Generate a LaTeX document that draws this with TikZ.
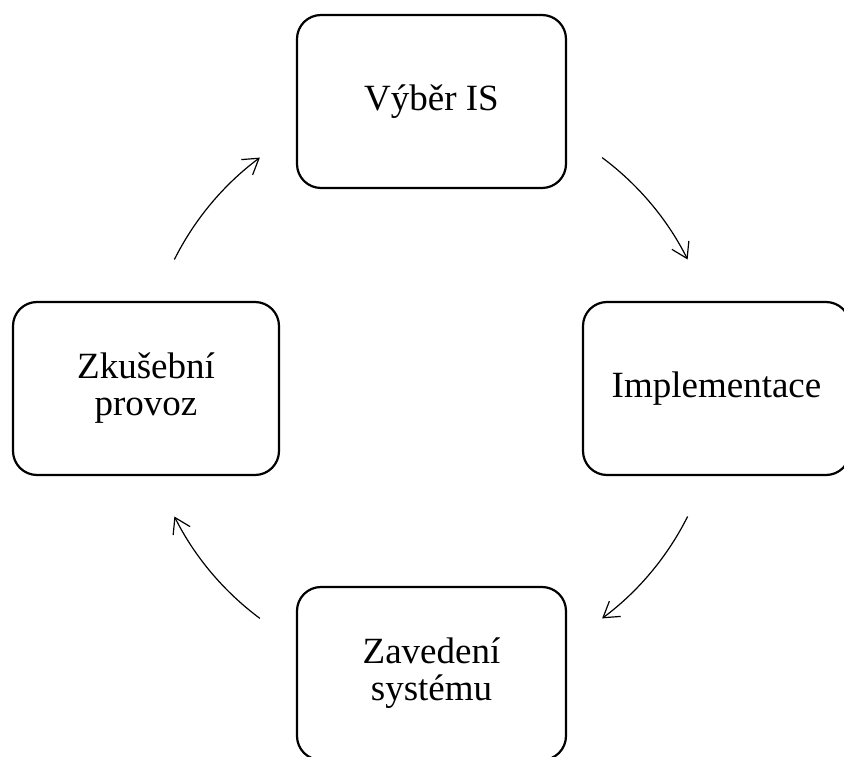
\documentclass[tikz,border=0pt]{standalone}
\usepackage{fontspec}
\setmainfont{Liberation Serif}
\usetikzlibrary{arrows.meta,calc}

\tikzset{
  stage/.style={draw, line width=2.2pt, rounded corners=24pt, align=center,
    inner sep=0pt, minimum height=173pt,
    font=\fontsize{37}{37}\selectfont},
  cyc/.style={line width=1.2pt, -{Straight Barb[length=15pt,width=19pt,line width=1.2pt]}}
}

\begin{document}
\begin{tikzpicture}[x=1pt,y=1pt]
  \useasboundingbox (0,0) rectangle (844,756);
  \clip (0,0) rectangle (844,756);

  % the four stages of the cycle
  \node[stage, minimum width=269pt] (vyber) at (431.5,654.5) {Výběr IS};
  \node[stage, minimum width=267pt] (impl)  at (716.5,367.5) {Implementace};
  \node[stage, minimum width=269pt] (zav)   at (431.5,82.5)  {Zavedení\\systému};
  \node[stage, minimum width=266pt] (zkus)  at (146,367.5)   {Zkušební\\provoz};

  % arcs of one circle round the middle, clockwise
  \coordinate (hub) at (431,368);
  \coordinate (a1) at ($(hub)+(153.4:287)$);
  \coordinate (a2) at ($(hub)+(53.4:287)$);
  \coordinate (a3) at ($(hub)+(-26.6:287)$);
  \coordinate (a4) at ($(hub)+(-126.6:287)$);

  \draw[cyc] (a1) arc[start angle=153.4, end angle=126.6, radius=287];
  \draw[cyc] (a2) arc[start angle=53.4, end angle=26.6, radius=287];
  \draw[cyc] (a3) arc[start angle=-26.6, end angle=-53.4, radius=287];
  \draw[cyc] (a4) arc[start angle=-126.6, end angle=-153.4, radius=287];
\end{tikzpicture}
\end{document}
